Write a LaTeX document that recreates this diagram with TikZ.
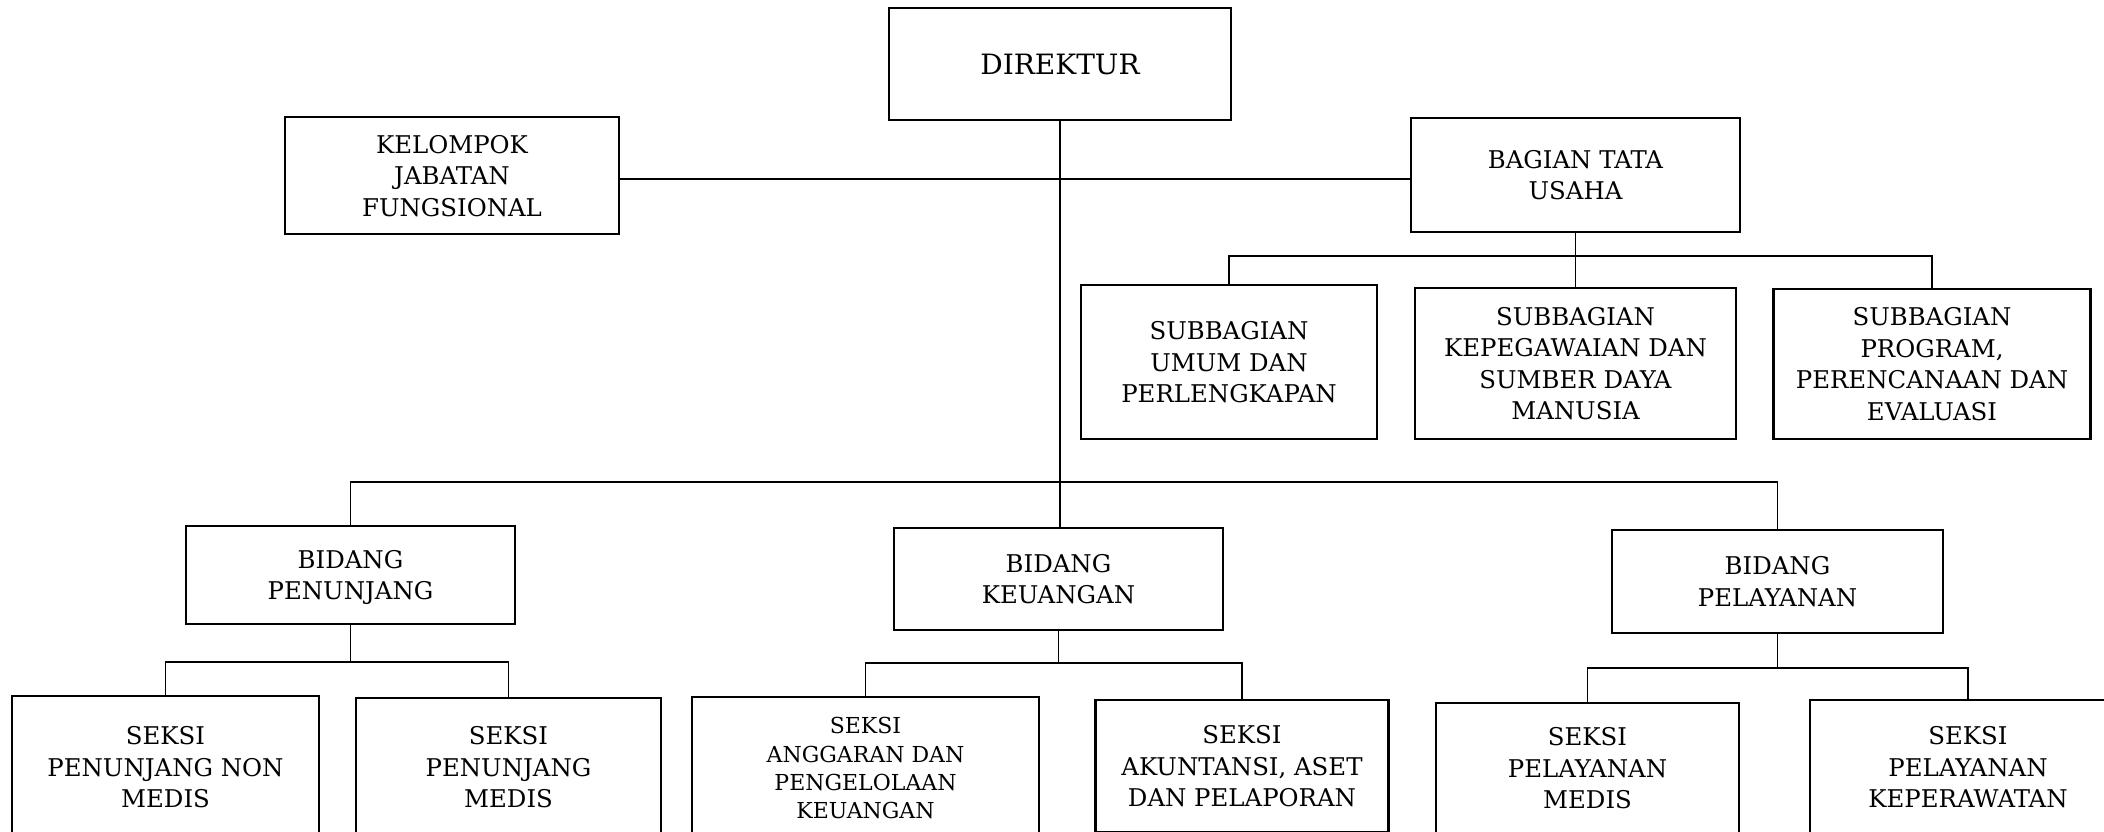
\documentclass[tikz,border=0pt]{standalone}
\usepackage{fontspec}
\setmainfont{DejaVu Serif}
\begin{document}
\begin{tikzpicture}[x=0.5pt,y=-0.5pt,
  box/.style={draw, line width=1.3pt, align=center, inner sep=0pt, text depth=0pt,
    font=\fontsize{12.2}{15.75}\selectfont},
  wh/.style 2 args={minimum width=#1*0.5pt, minimum height=#2*0.5pt},
  big/.style={font=\fontsize{14}{17}\selectfont},
  small/.style={font=\fontsize{11}{14.15}\selectfont},
  conn/.style={line width=0.9pt}]
\useasboundingbox (0,0) rectangle (2104,831);
\clip (0,0) rectangle (2104,831);

% boxes
\node[box, big, wh={342}{112}] (dir) at (1060,64) {DIREKTUR};
\node[box, wh={334}{117}] (kel) at (452,175.5) {KELOMPOK\\JABATAN\\FUNGSIONAL};
\node[box, wh={329}{114}] (bag) at (1575.5,175) {BAGIAN TATA\\USAHA};
\node[box, wh={296}{154}] (sub1) at (1229,362) {SUBBAGIAN\\UMUM DAN\\PERLENGKAPAN};
\node[box, wh={321}{151}] (sub2) at (1575.5,363.5) {SUBBAGIAN\\KEPEGAWAIAN DAN\\SUMBER DAYA\\MANUSIA};
\node[box, wh={317}{150}] (sub3) at (1932,364) {SUBBAGIAN\\PROGRAM,\\PERENCANAAN DAN\\EVALUASI};
\node[box, wh={329}{98}] (pen) at (350.5,575) {BIDANG\\PENUNJANG};
\node[box, wh={329}{102}] (keu) at (1058.5,579) {BIDANG\\KEUANGAN};
\node[box, wh={331}{103}] (pel) at (1777.5,581.5) {BIDANG\\PELAYANAN};
\node[box, wh={307}{142}] (s1) at (165.5,767) {SEKSI\\PENUNJANG NON\\MEDIS};
\node[box, wh={305}{138}] (s2) at (508.5,767) {SEKSI\\PENUNJANG\\MEDIS};
\node[box, small, wh={347}{142}] (s3) at (865.5,768) {SEKSI\\ANGGARAN DAN\\PENGELOLAAN\\KEUANGAN};
\node[box, wh={293}{132}] (s4) at (1242,766) {SEKSI\\AKUNTANSI, ASET\\DAN PELAPORAN};
\node[box, wh={303}{130}] (s5) at (1587.5,768) {SEKSI\\PELAYANAN\\MEDIS};
\node[box, wh={316}{134}] (s6) at (1968,767) {SEKSI\\PELAYANAN\\KEPERAWATAN};

% bus levels
\coordinate (b1) at (0,179);
\coordinate (b2) at (0,256);
\coordinate (b3) at (0,482);
\coordinate (b4) at (0,662);
\coordinate (b5) at (0,663);
\coordinate (b6) at (0,668);

% connectors
\draw[conn] (dir.south) -- (dir.south |- keu.north);
\draw[conn] (kel.east |- b1) -- (bag.west |- b1);

\draw[conn] (bag.south) -- (bag.south |- b2);
\draw[conn] (sub1.north) -- (sub1.north |- b2) -- (sub3.north |- b2) -- (sub3.north);
\draw[conn] (sub2.north) -- (sub2.north |- b2);

\draw[conn] (pen.north) -- (pen.north |- b3) -- (pel.north |- b3) -- (pel.north);

\draw[conn] (pen.south) -- (pen.south |- b4);
\draw[conn] (s1.north) -- (s1.north |- b4) -- (s2.north |- b4) -- (s2.north);

\draw[conn] (keu.south) -- (keu.south |- b5);
\draw[conn] (s3.north) -- (s3.north |- b5) -- (s4.north |- b5) -- (s4.north);

\draw[conn] (pel.south) -- (pel.south |- b6);
\draw[conn] (s5.north) -- (s5.north |- b6) -- (s6.north |- b6) -- (s6.north);
\end{tikzpicture}
\end{document}
